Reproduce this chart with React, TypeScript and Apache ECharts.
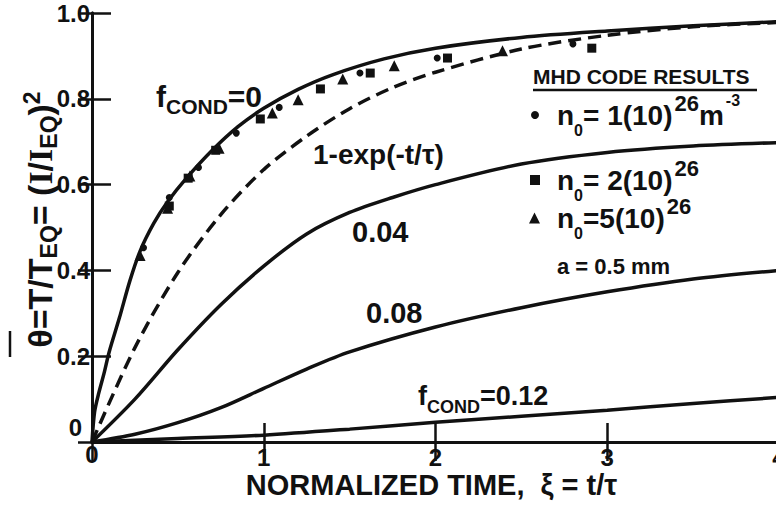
import React, { useEffect, useRef } from "react";
import * as echarts from "echarts";

// ---------- data ----------
const xTickValues = [0, 1, 2, 3, 4];
const yTickValues = [0, 0.2, 0.4, 0.6, 0.8, 1.0];

// f_COND = 0 (solid)
const curveCond0: number[][] = [
  [0, 0], [0.015, 0.07], [0.04, 0.115], [0.07, 0.16], [0.1, 0.21], [0.16, 0.29],
  [0.22, 0.375], [0.28, 0.445], [0.36, 0.51], [0.44, 0.56], [0.55, 0.615], [0.7, 0.68],
  [0.85, 0.735], [1.0, 0.778], [1.2, 0.822], [1.4, 0.856], [1.7, 0.893], [2.0, 0.918],
  [2.5, 0.943], [3.0, 0.958], [3.5, 0.97], [4.0, 0.98],
];
// 1 - exp(-t/tau) (dashed)
const curveExp: number[][] = [
  [0, 0], [0.25, 0.22], [0.5, 0.395], [0.75, 0.53], [1, 0.635], [1.25, 0.713],
  [1.5, 0.777], [1.75, 0.826], [2, 0.862], [2.5, 0.916], [3, 0.948], [3.5, 0.968], [4, 0.978],
];
// f_COND = 0.04
const curveCond004: number[][] = [
  [0, 0], [0.25, 0.1], [0.5, 0.215], [0.75, 0.32], [1, 0.41], [1.25, 0.485],
  [1.5, 0.535], [1.75, 0.57], [2, 0.6], [2.5, 0.648], [3, 0.675], [3.5, 0.69], [4, 0.698],
];
// f_COND = 0.08
const curveCond008: number[][] = [
  [0, 0], [0.25, 0.018], [0.5, 0.045], [0.75, 0.08], [1, 0.125], [1.25, 0.17],
  [1.5, 0.21], [2, 0.268], [2.5, 0.313], [3, 0.35], [3.5, 0.38], [4, 0.4],
];
// f_COND = 0.12
const curveCond012: number[][] = [
  [0, 0], [0.5, 0.008], [1, 0.016], [1.5, 0.03], [2, 0.046], [2.5, 0.06],
  [3, 0.074], [3.5, 0.09], [4, 0.104],
];

// MHD code results
const mhdN1: number[][] = [
  [0.3, 0.453], [0.45, 0.57], [0.62, 0.64], [0.84, 0.72], [1.09, 0.78],
  [1.56, 0.86], [2.01, 0.895], [2.8, 0.928],
];
const mhdN2: number[][] = [
  [0.45, 0.55], [0.56, 0.615], [0.72, 0.68], [0.98, 0.753], [1.33, 0.823],
  [1.62, 0.86], [2.07, 0.895], [2.91, 0.918],
];
const mhdN5: number[][] = [
  [0.28, 0.435], [0.44, 0.545], [0.57, 0.62], [0.74, 0.685], [1.05, 0.767],
  [1.2, 0.798], [1.46, 0.846], [1.76, 0.877], [2.39, 0.912],
];

const seriesNames = {
  n1: "n₀ = 1(10)²⁶ m⁻³",
  n2: "n₀ = 2(10)²⁶",
  n5: "n₀ = 5(10)²⁶",
};

// ---------- styling ----------
const FONT = "'Liberation Sans', Arial, sans-serif";
const SERIF = "'Liberation Serif', 'Times New Roman', serif";
const INK = "#111";

const legendRich = (sp: number) => ({
  sp: { width: sp, fontSize: 10, lineHeight: 10 },
  m: { fontSize: 28, fontWeight: "bold", fontFamily: FONT, lineHeight: 46, color: INK },
  sub: { fontSize: 16, fontWeight: "bold", fontFamily: FONT, lineHeight: 26, verticalAlign: "bottom", color: INK },
  sup: { fontSize: 22, fontWeight: "bold", fontFamily: FONT, lineHeight: 22, verticalAlign: "top", color: INK, padding: [0, 0, 0, 2] },
  sup2: { fontSize: 16, fontWeight: "bold", fontFamily: FONT, lineHeight: 16, verticalAlign: "top", color: INK, padding: [0, 0, 0, 2] },
});

const legendText: Record<string, string> = {
  [seriesNames.n1]: "{sp| }{m|n}{sub|0}{m|= 1(10)}{sup|26}{m|m}{sup2|-3}",
  [seriesNames.n2]: "{sp| }{m|n}{sub|0}{m|= 2(10)}{sup|26}",
  [seriesNames.n5]: "{sp| }{m|n}{sub|0}{m|=5(10)}{sup|26}",
};

function makeLegend(name: string, left: number, top: number, size: number, sp: number) {
  return {
    data: [name],
    left,
    top,
    orient: "vertical",
    padding: 0,
    itemWidth: size,
    itemHeight: size,
    selectedMode: false,
    formatter: (n: string) => legendText[n],
    textStyle: { color: INK, rich: legendRich(sp) },
  };
}

function lineSeries(name: string, data: number[][], dashed = false) {
  return {
    name,
    type: "line",
    data,
    showSymbol: false,
    smooth: 0.3,
    lineStyle: { color: INK, width: 3.5, type: dashed ? [13, 7] : "solid" },
    itemStyle: { color: INK },
    silent: true,
    z: 2,
  };
}

function scatterSeries(name: string, data: number[][], symbol: string, size: number) {
  return {
    name,
    type: "scatter",
    data,
    symbol,
    symbolSize: size,
    itemStyle: { color: INK, opacity: 1 },
    silent: true,
    z: 3,
  };
}

const labelTextStyle = (size: number, lineHeight?: number) => ({
  fontSize: size,
  fontWeight: "bold",
  fontFamily: FONT,
  fill: INK,
  ...(lineHeight ? { lineHeight } : {}),
});

const tickTok = { fontSize: 24, fontWeight: "bold", fontFamily: FONT, color: INK };

export default function App() {
  const ref = useRef<HTMLDivElement>(null);

  useEffect(() => {
    if (!ref.current) return;
    const chart = echarts.init(ref.current, null, { renderer: "svg" });

    const axisLine = { show: true, lineStyle: { color: INK, width: 3 } };
    const tickStyle = { color: INK, width: 2.5 };

    const option: any = {
      animation: false,
      backgroundColor: "#fff",
      grid: { left: 92, right: -3, top: 13, bottom: 66, containLabel: false, outerBoundsMode: "none" },
      xAxis: [
        {
          type: "value",
          min: xTickValues[0],
          max: xTickValues[xTickValues.length - 1],
          interval: 1,
          position: "bottom",
          axisLine,
          axisTick: { show: true, inside: true, length: 19, lineStyle: tickStyle },
          splitLine: { show: false },
          axisLabel: {
            show: true,
            margin: 2,
            fontSize: 24,
            fontWeight: "bold",
            fontFamily: FONT,
            color: INK,
            formatter: (v: number) => (v === 0 ? "{z|0}" : "{n|" + String(v) + "}"),
            rich: {
              z: { ...tickTok, lineHeight: 14, padding: [6, 0, 0, 0] },
              n: { ...tickTok, lineHeight: 14, padding: [13, 0, 0, 0] },
            },
          },
          name: "NORMALIZED TIME,  ξ = t/τ",
          nameLocation: "middle",
          nameGap: 33,
          nameMoveOverlap: false,
          nameTextStyle: {
            fontSize: 29,
            fontWeight: "bold",
            fontFamily: FONT,
            color: INK,
            lineHeight: 20,
            padding: [0, 8, 0, 0],
          },
        },
        {
          type: "value",
          min: xTickValues[0],
          max: xTickValues[xTickValues.length - 1],
          interval: 1,
          position: "top",
          axisLine,
          axisTick: { show: true, inside: true, length: 19, lineStyle: tickStyle },
          axisLabel: { show: false },
          splitLine: { show: false },
        },
      ],
      yAxis: [
        {
          type: "value",
          min: yTickValues[0],
          max: yTickValues[yTickValues.length - 1],
          interval: 0.2,
          position: "left",
          axisLine,
          axisTick: { show: true, inside: true, length: 19, lineStyle: tickStyle },
          splitLine: { show: false },
          axisLabel: {
            show: true,
            margin: 2,
            fontSize: 24,
            fontWeight: "bold",
            fontFamily: FONT,
            color: INK,
            formatter: (v: number) => (v === 0 ? "{z|0}" : "{n|" + v.toFixed(1) + "}"),
            rich: {
              z: { ...tickTok, padding: [0, 8, 30, 0] },
              n: { ...tickTok },
            },
          },
          name: "{m|θ=T/T}{s|EQ}{m|= (}{ser|I}{m|/}{ser|I}{s|EQ}{m|)}{p|2}",
          nameLocation: "middle",
          nameRotate: 90,
          nameGap: 32,
          nameMoveOverlap: false,
          nameTextStyle: {
            color: INK,
            padding: [0, 0, 0, 16],
            rich: {
              m: { fontSize: 34, fontWeight: "bold", fontFamily: FONT, lineHeight: 40, color: INK },
              ser: { fontSize: 34, fontWeight: "bold", fontFamily: SERIF, lineHeight: 40, color: INK },
              s: { fontSize: 23, fontWeight: "bold", fontFamily: FONT, lineHeight: 22, verticalAlign: "bottom", color: INK },
              p: { fontSize: 23, fontWeight: "bold", fontFamily: FONT, lineHeight: 22, verticalAlign: "top", color: INK },
            },
          },
        },
        {
          type: "value",
          min: yTickValues[0],
          max: yTickValues[yTickValues.length - 1],
          interval: 0.2,
          position: "right",
          axisLine,
          axisTick: { show: true, inside: true, length: 14, lineStyle: tickStyle },
          axisLabel: { show: false },
          splitLine: { show: false },
        },
      ],
      legend: [
        makeLegend(seriesNames.n1, 531, 92, 8, 13),
        makeLegend(seriesNames.n2, 530, 157, 10, 12),
        makeLegend(seriesNames.n5, 529, 195, 11, 12),
      ],
      series: [
        lineSeries("f_COND=0", curveCond0),
        lineSeries("1-exp(-t/τ)", curveExp, true),
        lineSeries("0.04", curveCond004),
        lineSeries("0.08", curveCond008),
        lineSeries("f_COND=0.12", curveCond012),
        scatterSeries(seriesNames.n1, mhdN1, "circle", 7),
        scatterSeries(seriesNames.n2, mhdN2, "rect", 9),
        scatterSeries(seriesNames.n5, mhdN5, "triangle", 11),
      ],
      graphic: [
        // overline on theta
        { type: "line", shape: { x1: 10, y1: 331, x2: 10, y2: 357 }, style: { stroke: INK, lineWidth: 2.5 } },
        // f_COND = 0
        {
          type: "text",
          x: 156,
          y: 76,
          style: {
            text: "{m|f}{s|COND}{m|=0}",
            align: "left",
            verticalAlign: "top",
            textAlign: "left",
            textVerticalAlign: "top",
            rich: {
              m: { fontSize: 30, fontWeight: "bold", fontFamily: FONT, lineHeight: 41, fill: INK, color: INK },
              s: { fontSize: 21, fontWeight: "bold", fontFamily: FONT, lineHeight: 21, verticalAlign: "bottom", fill: INK, color: INK },
            },
          },
        },
        // 1 - exp(-t/tau)
        {
          type: "text",
          x: 313,
          y: 154,
          style: { text: "1-exp(-t/τ)", ...labelTextStyle(28), align: "left", verticalAlign: "middle", textAlign: "left", textVerticalAlign: "middle" },
        },
        {
          type: "text",
          x: 352,
          y: 232,
          style: { text: "0.04", ...labelTextStyle(29), align: "left", verticalAlign: "middle", textAlign: "left", textVerticalAlign: "middle" },
        },
        {
          type: "text",
          x: 366,
          y: 312.5,
          style: { text: "0.08", ...labelTextStyle(29), align: "left", verticalAlign: "middle", textAlign: "left", textVerticalAlign: "middle" },
        },
        // f_COND = 0.12
        {
          type: "text",
          x: 418,
          y: 376,
          style: {
            text: "{m|f}{s|COND}{m|=0.12}",
            align: "left",
            verticalAlign: "top",
            textAlign: "left",
            textVerticalAlign: "top",
            rich: {
              m: { fontSize: 27, fontWeight: "bold", fontFamily: FONT, lineHeight: 40, fill: INK, color: INK },
              s: { fontSize: 18, fontWeight: "bold", fontFamily: FONT, lineHeight: 18, verticalAlign: "bottom", fill: INK, color: INK },
            },
          },
        },
        // legend heading
        {
          type: "text",
          x: 533,
          y: 76.5,
          style: { text: "MHD CODE RESULTS", ...labelTextStyle(21, 17), align: "left", verticalAlign: "middle", textAlign: "left", textVerticalAlign: "middle" },
        },
        { type: "line", shape: { x1: 533, y1: 90, x2: 757, y2: 90 }, style: { stroke: INK, lineWidth: 2.5 } },
        {
          type: "text",
          x: 557,
          y: 266.5,
          style: { text: "a = 0.5 mm", ...labelTextStyle(22), align: "left", verticalAlign: "middle", textAlign: "left", textVerticalAlign: "middle" },
        },
      ],
    };

    chart.setOption(option);
    return () => chart.dispose();
  }, []);

  return (
    <div
      ref={ref}
      style={{ position: "absolute", left: 0, top: 0, width: 776, height: 508, background: "#fff" }}
    />
  );
}
